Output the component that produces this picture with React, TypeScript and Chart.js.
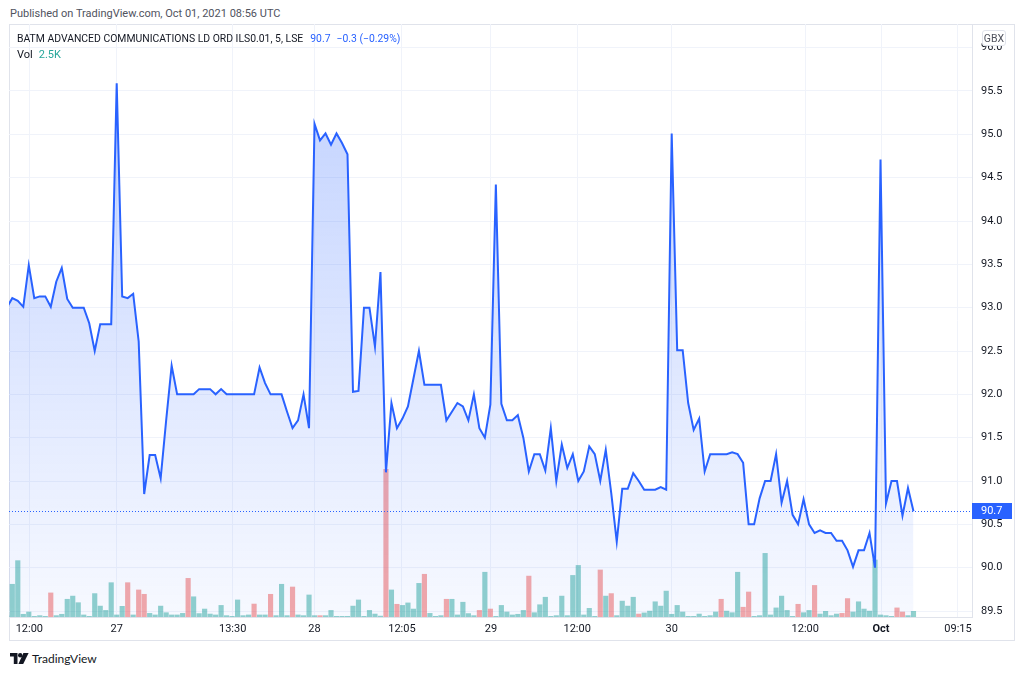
import React, { useEffect, useRef } from "react";
import { Chart, registerables } from "chart.js";
Chart.register(...registerables);

// index of the first bar in the arrays below (bar -1 sits just left of the visible pane)
const startIndex = -1;

const prices = [
  93.0,
  93.11, 93.08, 93.01, 93.49, 93.11, 93.13, 93.13, 93.01, 93.3, 93.46,
  93.1, 93.0, 93.0, 93.0, 92.82, 92.5, 92.81, 92.81, 92.81, 95.59,
  93.13, 93.11, 93.16, 92.61, 90.85, 91.3, 91.3, 91.03, 91.7, 92.33,
  92.0, 92.0, 92.0, 92.0, 92.06, 92.06, 92.06, 92.0, 92.06, 92.0,
  92.0, 92.0, 92.0, 92.0, 92.0, 92.31, 92.13, 92.0, 92.0, 92.0,
  91.8, 91.61, 91.7, 92.0, 91.61, 95.12, 94.93, 95.01, 94.88, 95.01,
  94.9, 94.77, 92.03, 92.04, 93.0, 93.0, 92.55, 93.41, 91.1, 91.9,
  91.61, 91.72, 91.86, 92.18, 92.5, 92.11, 92.11, 92.11, 92.11, 91.7,
  91.8, 91.9, 91.86, 91.7, 92.0, 91.61, 91.5, 91.88, 94.42, 91.89,
  91.7, 91.7, 91.76, 91.5, 91.11, 91.31, 91.31, 91.12, 91.61, 91.0,
  91.42, 91.15, 91.31, 91.0, 91.11, 91.4, 91.31, 91.0, 91.36, 90.86,
  90.3, 90.91, 90.91, 91.09, 91.0, 90.9, 90.9, 90.9, 90.93, 90.9,
  95.01, 92.51, 92.51, 91.9, 91.59, 91.72, 91.11, 91.31, 91.31, 91.31,
  91.31, 91.33, 91.31, 91.21, 90.5, 90.5, 90.8, 91.0, 91.0, 91.31,
  90.75, 91.0, 90.61, 90.5, 90.79, 90.5, 90.4, 90.43, 90.4, 90.4,
  90.31, 90.31, 90.2, 90.01, 90.2, 90.2, 90.4, 90.0, 94.71, 90.74,
  91.0, 91.0, 90.6, 90.92, 90.65,
];

// volume in thousands of shares
const volumes = [
  0.5,
  14.4, 24.8, 1.2, 2.2, 0.3, 0.6, 0.3, 10.6, 0.6, 1.2,
  7.8, 9.2, 6.3, 0.9, 0.3, 10.3, 4.8, 2.9, 15.1, 0.9,
  4.7, 15.1, 0.9, 11.9, 10.0, 1.6, 0.9, 4.8, 1.9, 0.9,
  0.9, 1.6, 17.0, 8.9, 1.5, 3.5, 1.3, 0.9, 5.1, 0.6,
  0.3, 7.5, 0.6, 0.9, 5.7, 0.9, 0.9, 10.0, 0.6, 14.4,
  0.6, 13.2, 0.9, 0.6, 9.7, 0.6, 0.6, 0.6, 2.9, 0.3,
  0.3, 0.3, 4.8, 7.5, 0.3, 2.9, 1.3, 0.4, 65.0, 11.9,
  5.6, 5.1, 6.2, 3.5, 14.8, 18.8, 1.6, 0.3, 0.6, 7.8,
  7.8, 0.9, 6.5, 1.5, 0.6, 2.9, 19.7, 3.5, 0.3, 5.1,
  2.2, 0.9, 1.2, 2.9, 18.0, 1.9, 5.4, 8.7, 0.3, 0.6,
  9.2, 0.6, 18.3, 22.7, 0.9, 3.8, 0.3, 20.7, 9.2, 10.3,
  0.6, 7.0, 4.8, 8.7, 1.3, 1.8, 2.6, 6.7, 4.8, 11.4,
  1.2, 5.1, 2.2, 0.3, 0.3, 1.3, 0.3, 0.6, 2.2, 7.8,
  2.6, 1.9, 19.7, 4.3, 11.0, 0.3, 0.6, 28.0, 0.9, 4.0,
  9.2, 2.9, 0.3, 5.6, 1.9, 2.9, 13.9, 1.3, 2.5, 0.6,
  1.3, 1.6, 8.1, 2.2, 6.7, 3.5, 2.6, 25.1, 0.9, 0.6,
  0.3, 4.0, 2.2, 0.6, 2.5,
];

// bars whose close was below their open (drawn red)
const downBars = [
  7, 21, 23, 24, 32, 44, 47, 51, 56, 68, 70, 75, 79, 85, 87, 94, 107, 109,
  114, 129, 133, 134, 143, 146, 151, 152, 161, 162,
];

const timeTickPositions = [3.1, 19.0, 40.1, 55.0, 70.9, 87.1, 102.8, 120.0, 144.3, 158.1, 172.1];
const timeTickLabels = ["12:00", "27", "13:30", "28", "12:05", "29", "12:00", "30", "12:00", "Oct", "09:15"];

const priceTicks = [89.5, 90.0, 90.5, 91.0, 91.5, 92.0, 92.5, 93.0, 93.5, 94.0, 94.5, 95.0, 95.5, 96.0];

const lastPriceText = "90.7";
const changeText = "\u22120.3 (\u22120.29%)";
const volText = "2.5K";
const symbolText = "BATM ADVANCED COMMUNICATIONS LD ORD ILS0.01, 5, LSE";

const BLUE = "#2962ff";
const GRID = "#f0f3fa";
const BORDER = "#e0e3eb";
const TEXT = "#131722";
const FONT = "Roboto, 'Liberation Sans', sans-serif";

export default function App() {
  const canvasRef = useRef<HTMLCanvasElement | null>(null);

  useEffect(() => {
    const canvas = canvasRef.current;
    if (!canvas) return;

    const linePoints = prices.map((p, i) => ({ x: i + startIndex, y: p }));
    const volPoints = volumes.map((v, i) => ({ x: i + startIndex, y: v }));
    const volColors = volumes.map((_, i) =>
      downBars.includes(i + startIndex) ? "rgba(239,83,80,0.5)" : "rgba(38,166,154,0.5)"
    );
    const lastPrice = prices[prices.length - 1];
    const maxPrice = Math.max(...prices);

    const priceLinePlugin = {
      id: "priceLine",
      afterDatasetsDraw(chart: any) {
        const { ctx, chartArea } = chart;
        const y = Math.round(chart.scales.y.getPixelForValue(lastPrice)) + 0.5;
        ctx.save();
        ctx.strokeStyle = BLUE;
        ctx.lineWidth = 1;
        ctx.setLineDash([1, 2]);
        ctx.beginPath();
        ctx.moveTo(chartArea.left, y);
        ctx.lineTo(chartArea.right, y);
        ctx.stroke();
        ctx.restore();
      },
      afterDraw(chart: any) {
        const { ctx, chartArea } = chart;
        const y = Math.round(chart.scales.y.getPixelForValue(lastPrice));
        ctx.save();
        ctx.fillStyle = BLUE;
        ctx.fillRect(chartArea.right, y - 8, 40, 16);
        ctx.fillStyle = "#ffffff";
        ctx.font = `11px ${FONT}`;
        ctx.textBaseline = "middle";
        ctx.textAlign = "left";
        ctx.fillText(lastPriceText, chartArea.right + 9, y + 0.5);
        ctx.restore();
      },
    };

    const chart = new Chart(canvas, {
      type: "line",
      data: {
        datasets: [
          {
            type: "line",
            data: linePoints,
            borderColor: BLUE,
            borderWidth: 2,
            pointRadius: 0,
            tension: 0,
            order: 0,
            yAxisID: "y",
            fill: "start",
            backgroundColor: (c: any) => {
              const ch = c.chart;
              const area = ch.chartArea;
              if (!area) return "rgba(41,98,255,0.15)";
              const top = ch.scales.y.getPixelForValue(maxPrice);
              const g = ch.ctx.createLinearGradient(0, top, 0, area.bottom);
              g.addColorStop(0, "rgba(41,98,255,0.28)");
              g.addColorStop(1, "rgba(41,98,255,0.04)");
              return g;
            },
          } as any,
          {
            type: "bar",
            data: volPoints,
            backgroundColor: volColors,
            barThickness: 4.5,
            order: 1,
            yAxisID: "vol",
          } as any,
        ],
      },
      options: {
        responsive: false,
        animation: false,
        devicePixelRatio: 1,
        layout: { padding: 0 },
        plugins: { legend: { display: false }, tooltip: { enabled: false } },
        scales: {
          x: {
            type: "linear",
            min: -0.6,
            max: 174.65,
            offset: false,
            position: "bottom",
            grid: { color: GRID, drawTicks: false, offset: false },
            border: { display: true, color: BORDER },
            afterBuildTicks: (s: any) => {
              s.ticks = timeTickPositions.map((v) => ({ value: v }));
            },
            afterFit: (s: any) => {
              s.height = 24;
              s.paddingLeft = 0;
              s.paddingRight = 0;
            },
            ticks: {
              autoSkip: false,
              maxRotation: 0,
              padding: 6,
              color: TEXT,
              font: (c: any) => ({
                family: FONT,
                size: 11,
                weight: timeTickLabels[c.index] === "Oct" ? "bold" : "normal",
              }),
              callback: (_v: any, i: number) => timeTickLabels[i],
            },
          } as any,
          y: {
            type: "linear",
            position: "right",
            min: 89.431,
            max: 96.273,
            grid: { color: GRID, drawTicks: false },
            border: { display: true, color: BORDER },
            afterBuildTicks: (s: any) => {
              s.ticks = priceTicks.map((v) => ({ value: v }));
            },
            afterFit: (s: any) => {
              s.width = 43;
              s.paddingTop = 0;
              s.paddingBottom = 0;
            },
            ticks: {
              padding: 9,
              color: TEXT,
              font: { family: FONT, size: 11 },
              callback: (v: any) => Number(v).toFixed(1),
            },
          } as any,
          vol: {
            type: "linear",
            display: false,
            min: 0,
            max: 261,
            grid: { display: false },
          } as any,
        },
      },
      plugins: [priceLinePlugin],
    });

    return () => chart.destroy();
  }, []);

  return (
    <div
      style={{
        position: "fixed",
        left: 0,
        top: 0,
        width: 1024,
        height: 674,
        background: "#ffffff",
        fontFamily: FONT,
        color: TEXT,
        overflow: "hidden",
      }}
    >
      <div style={{ position: "absolute", left: 10, top: 7, fontSize: 11, color: "#50535e", whiteSpace: "nowrap", lineHeight: "14px" }}>
        Published on TradingView.com, Oct 01, 2021 08:56 UTC
      </div>
      <div
        style={{
          position: "absolute",
          left: 9,
          top: 24,
          width: 1006,
          height: 617,
          border: `1px solid ${BORDER}`,
          boxSizing: "border-box",
        }}
      />
      <canvas
        ref={canvasRef}
        width={1006}
        height={617}
        style={{ position: "absolute", left: 9, top: 24, width: 1006, height: 617 }}
      />
      <div style={{ position: "absolute", left: 17, top: 32, fontSize: 10.4, whiteSpace: "nowrap", lineHeight: "14px" }}>
        <span style={{ color: TEXT }}>{symbolText}</span>
        <span style={{ color: BLUE, marginLeft: 7 }}>{lastPriceText}</span>
        <span style={{ color: BLUE, marginLeft: 6 }}>{changeText}</span>
      </div>
      <div style={{ position: "absolute", left: 17, top: 48, fontSize: 11, whiteSpace: "nowrap", lineHeight: "14px" }}>
        <span style={{ color: TEXT }}>Vol</span>
        <span style={{ color: "#26a69a", marginLeft: 6 }}>{volText}</span>
      </div>
      <div
        style={{
          position: "absolute",
          left: 982,
          top: 30,
          width: 24,
          height: 16,
          border: `1px solid ${BORDER}`,
          borderRadius: 3,
          background: "#ffffff",
          fontSize: 10.5,
          lineHeight: "16px",
          textAlign: "center",
          color: "#50535e",
          boxSizing: "border-box",
        }}
      >
        GBX
      </div>
      <svg
        style={{ position: "absolute", left: 10, top: 653 }}
        width={19}
        height={12}
        viewBox="0 0 19 12"
      >
        <path d="M0 0 H7.5 V11 H3.8 V3.6 H0 Z" fill={TEXT} />
        <circle cx={10.2} cy={2.2} r={2.2} fill={TEXT} />
        <path d="M13.4 0 H18.6 L13.2 11 H8.4 Z" fill={TEXT} />
      </svg>
      <div style={{ position: "absolute", left: 32, top: 651, fontSize: 12, color: TEXT, whiteSpace: "nowrap", fontFamily: "Lato, Roboto, sans-serif" }}>
        TradingView
      </div>
    </div>
  );
}
